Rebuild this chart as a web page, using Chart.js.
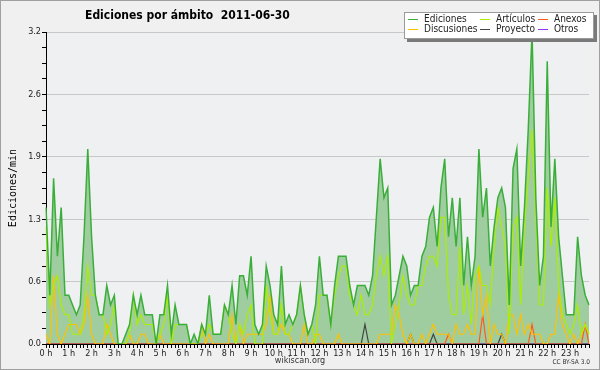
<!DOCTYPE html>
<html><head><meta charset="utf-8">
<script src="https://cdn.jsdelivr.net/npm/chart.js@4.4.1/dist/chart.umd.min.js"></script>
<style>html,body{margin:0;padding:0;background:#f0f0f0;}canvas{display:block;}</style>
</head><body>
<canvas id="c" width="600" height="370"></canvas>
<script>
const titleText = 'Ediciones por ámbito  2011-06-30';
const yTitle = 'Ediciones/min';
const hourLabels = ['0 h','1 h','2 h','3 h','4 h','5 h','6 h','7 h','8 h','9 h','10 h','11 h','12 h','13 h','14 h','15 h','16 h','17 h','18 h','19 h','20 h','21 h','22 h','23 h'];
const yTicks = [0,0.16,0.32,0.48,0.64,0.8,0.96,1.12,1.28,1.44,1.6,1.76,1.92,2.08,2.24,2.4,2.56,2.72,2.88,3.04,3.2];
const yLabels = ['0.0','0.6','1.3','1.9','2.6','3.2'];

const ediciones = [
 1.4,0.5,1.7,0.9,1.4,0.5,0.5,0.4,0.3,0.4,
 1.1,2.0,1.1,0.5,0.3,0.3,0.6,0.4,0.5,0,
 0,0.1,0.2,0.5,0.3,0.5,0.3,0.3,0.3,0,
 0.3,0.3,0.6,0.1,0.4,0.2,0.2,0.2,0,0.1,
 0,0.2,0.1,0.5,0.1,0.1,0.1,0.4,0.3,0.6,
 0.2,0.7,0.7,0.5,0.9,0.2,0.1,0.2,0.8,0.6,
 0.3,0.2,0.8,0.2,0.3,0.2,0.3,0.6,0.3,0.1,
 0.2,0.4,0.9,0.5,0.5,0.2,0.6,0.9,0.9,0.9,
 0.6,0.4,0.6,0.6,0.6,0.5,0.7,1.3,1.9,1.5,
 1.6,0.4,0.5,0.7,0.9,0.8,0.5,0.6,0.6,0.9,
 1.0,1.3,1.4,1.0,1.6,1.9,1.1,1.5,1.0,1.5,
 0.6,1.1,0.6,0.9,2.0,1.3,1.6,0.8,1.2,1.5,
 1.6,1.4,0.4,1.8,2.0,0.8,1.4,2.2,3.2,1.5,
 0.6,0.9,2.9,1.2,1.9,1.1,0.7,0.3,0.3,0.3,
 1.1,0.7,0.5,0.4];
const articulos = [
 1.2,0.4,0.6,0.7,0.4,0.3,0.3,0.1,0.1,0.1,
 0.3,0.8,0.5,0.5,0.3,0.3,0.1,0.2,0.4,0,
 0,0,0.1,0.5,0.2,0.3,0.2,0.2,0.2,0,
 0.1,0.2,0.5,0,0.2,0.2,0.2,0.2,0,0,
 0,0.1,0.1,0.2,0.1,0.1,0.1,0.4,0.3,0.1,
 0,0.2,0.1,0.3,0.4,0,0,0,0.6,0.3,
 0.1,0.1,0.4,0.1,0.1,0.2,0.3,0.6,0.3,0.1,
 0.2,0,0.5,0.5,0.5,0.2,0.5,0.7,0.8,0.8,
 0.5,0.4,0.3,0.5,0.3,0.3,0.4,0.7,0.9,0.7,
 0.9,0,0.2,0.4,0.7,0.5,0.4,0.4,0.6,0.6,
 0.8,0.9,0.9,0.8,1.3,1.3,0.5,0.3,0.3,1.0,
 0.3,0.6,0.2,0.7,0.8,0.6,0.6,0.4,1.0,1.4,
 1.2,1.0,0.1,1.2,1.3,0.4,1.2,1.7,2.2,1.3,
 0.4,0.4,1.6,1.0,1.5,0.6,0.3,0.2,0.1,0.2,
 0.4,0.1,0.2,0.1];
const discusiones = [
 0.1,0,0.7,0.1,0,0.1,0.2,0.2,0.2,0.1,
 0.2,0.5,0.1,0,0,0,0.2,0.1,0,0,
 0,0,0.1,0,0,0.1,0.1,0,0,0,
 0.1,0,0,0,0,0,0,0,0,0,
 0,0.2,0,0.1,0,0,0,0,0,0.3,
 0,0.2,0,0.1,0.1,0.1,0.1,0.1,0.2,0.5,
 0.1,0.1,0.2,0.1,0.1,0,0,0,0.2,0,
 0,0.1,0.1,0,0,0,0,0.1,0,0,
 0,0,0,0,0,0,0,0,0.1,0.1,
 0.1,0.1,0.4,0.3,0.1,0,0.1,0,0,0.1,
 0,0.1,0.2,0.1,0.1,0.1,0.1,0,0.2,0.1,
 0.1,0.2,0.1,0.1,0.8,0.3,0.5,0,0.2,0.1,
 0.1,0,0.3,0.3,0.1,0.3,0.1,0.2,0.1,0.1,
 0.1,0,0,0.1,0.1,0.5,0.2,0.1,0,0.1,
 0,0.1,0.2,0.1];
const proyecto = [
 0,0,0,0,0,0,0,0,0,0, 0,0,0,0,0,0,0,0,0,0,
 0,0,0,0,0,0,0,0,0,0, 0,0,0,0,0,0,0,0,0,0,
 0,0,0,0,0,0,0,0,0,0, 0,0,0,0,0,0,0,0,0,0,
 0,0,0,0,0,0,0,0,0,0, 0,0,0,0,0,0,0,0,0,0,
 0,0,0,0,0.2,0,0,0,0,0,
 0,0,0,0,0,0,0.1,0,0,0,
 0,0,0.1,0,0,0,0,0,0,0,
 0,0,0,0,0,0,0,0,0,0,
 0.1,0,0,0,0,0,0,0,0,0,
 0,0,0,0,0,0,0,0,0,0,
 0,0,0,0];
const anexos = [
 0,0,0,0,0,0,0,0,0,0, 0,0,0,0,0,0,0,0,0,0,
 0,0,0,0,0,0,0,0,0,0, 0,0,0,0,0,0,0,0,0,0,
 0,0,0,0,0,0,0,0,0,0, 0,0,0,0,0,0,0,0,0,0,
 0,0,0,0,0,0,0,0,0,0, 0,0,0,0,0,0,0,0,0,0,
 0,0,0,0,0,0,0,0,0,0,
 0,0,0,0,0,0,0,0,0,0,
 0,0,0,0,0,0,0.1,0,0,0,
 0,0,0,0,0,0.3,0,0,0,0,
 0,0,0,0,0,0,0,0,0.2,0,
 0,0,0,0,0,0,0,0,0,0,
 0,0,0.2,0];
const otros = [
 0,0,0,0,0,0,0,0,0,0, 0,0,0,0,0,0,0,0,0,0,
 0,0,0,0,0,0,0,0,0,0, 0,0,0,0,0,0,0,0,0,0,
 0,0,0,0,0,0,0,0,0,0, 0,0,0,0,0,0,0,0,0,0,
 0,0,0,0,0,0,0,0,0,0, 0,0,0,0,0,0,0,0,0,0,
 0,0,0,0,0,0,0,0,0,0, 0,0,0,0,0,0,0,0,0,0,
 0,0,0,0,0,0,0,0,0,0, 0,0,0,0,0,0,0,0,0,0,
 0,0,0,0,0,0,0,0,0,0, 0,0,0,0,0,0,0,0,0,0,
 0,0,0,0];

// 10-minute time slots
const times = [];
for (let h = 0; h < 24; h++) for (let m = 0; m < 60; m += 10) times.push(h + ':' + String(m).padStart(2, '0'));

const COL = {
  ed: '#3aae3a', edFill: '#a0cda0', art: '#aaee00', dis: '#ffc000',
  anx: '#ff5a1e', pro: '#444444', otr: '#9933ff'
};
const FF = '"DejaVu Sans Condensed", "DejaVu Sans", sans-serif';

const legendItems = [
  {text: 'Ediciones', color: COL.ed, col: 0, row: 0},
  {text: 'Artículos', color: COL.art, col: 1, row: 0},
  {text: 'Anexos', color: COL.anx, col: 2, row: 0},
  {text: 'Discusiones', color: COL.dis, col: 0, row: 1},
  {text: 'Proyecto', color: COL.pro, col: 1, row: 1},
  {text: 'Otros', color: COL.otr, col: 2, row: 1}
];

const decor = {
  id: 'decor',
  beforeDraw(chart) {
    const {ctx, chartArea: a} = chart;
    ctx.save();
    ctx.fillStyle = '#f0f0f0';
    ctx.fillRect(0, 0, chart.width, chart.height);
    ctx.fillStyle = '#eff0f1';
    ctx.fillRect(a.left, a.top, a.right - a.left, a.bottom - a.top);
    ctx.restore();
  },
  afterDraw(chart) {
    const ctx = chart.ctx;
    const a = chart.chartArea;
    ctx.save();
    // title
    ctx.fillStyle = '#000';
    ctx.font = 'bold 12px ' + FF;
    ctx.textAlign = 'left';
    ctx.textBaseline = 'alphabetic';
    ctx.fillText(titleText, 85, 19);
    // y axis title
    ctx.save();
    ctx.translate(13, (a.top + a.bottom) / 2);
    ctx.rotate(-Math.PI / 2);
    ctx.font = '10px "DejaVu Sans Mono", monospace';
    ctx.textAlign = 'center';
    ctx.textBaseline = 'middle';
    ctx.fillText(yTitle, 0, 0);
    ctx.restore();
    // legend box
    const lx = 404, ly = 12, lw = 190, lh = 27;
    ctx.fillStyle = '#7a7a7a';
    ctx.fillRect(lx + 3, ly + 3, lw, lh);
    ctx.fillStyle = '#ffffff';
    ctx.fillRect(lx, ly, lw, lh);
    ctx.strokeStyle = '#9a9a9a';
    ctx.lineWidth = 1;
    ctx.strokeRect(lx + 0.5, ly + 0.5, lw - 1, lh - 1);
    const colX = [408, 480, 538];
    const rowY = [19.5, 29.5];
    ctx.font = '10px ' + FF;
    ctx.textBaseline = 'middle';
    legendItems.forEach(it => {
      const x = colX[it.col], y = rowY[it.row];
      ctx.strokeStyle = it.color;
      ctx.beginPath(); ctx.moveTo(x, y); ctx.lineTo(x + 10, y); ctx.stroke();
      ctx.fillStyle = '#222';
      ctx.fillText(it.text, x + 16, y);
    });
    // footer
    ctx.fillStyle = '#333';
    ctx.font = '9px ' + FF;
    ctx.textAlign = 'center';
    ctx.textBaseline = 'middle';
    ctx.fillText('wikiscan.org', 300, 361);
    ctx.font = '6.5px ' + FF;
    ctx.textAlign = 'right';
    ctx.fillText('CC BY-SA 3.0', 590, 362);
    // outer border
    ctx.strokeStyle = '#a0a0a0';
    ctx.strokeRect(0.5, 0.5, chart.width - 1, chart.height - 1);
    ctx.restore();
  }
};

const line = (label, data, color, width, extra) => Object.assign({
  label, data, borderColor: color, borderWidth: width,
  pointRadius: 0, tension: 0, fill: false
}, extra || {});

new Chart(document.getElementById('c'), {
  type: 'line',
  data: {
    labels: times,
    datasets: [
      line('Ediciones', ediciones, COL.ed, 1.5, {fill: 'origin', backgroundColor: COL.edFill}),
      line('Artículos', articulos, COL.art, 1.2),
      line('Discusiones', discusiones, COL.dis, 1.2),
      line('Anexos', anexos, COL.anx, 1.2),
      line('Proyecto', proyecto, COL.pro, 1.2),
      line('Otros', otros, COL.otr, 1.2)
    ]
  },
  options: {
    responsive: false,
    animation: false,
    devicePixelRatio: 1,
    layout: {padding: {top: 32, right: 11, bottom: 0, left: 0}},
    plugins: {
      legend: {display: false},
      title: {display: false},
      tooltip: {enabled: false},
      filler: {drawTime: 'beforeDatasetsDraw'}
    },
    scales: {
      x: {
        type: 'category',
        z: 1,
        offset: false,
        grid: {display: true, drawOnChartArea: false, drawTicks: true, tickLength: 4, color: '#000', tickColor: '#000'},
        border: {display: true, color: '#000', width: 1},
        ticks: {
          autoSkip: false, maxRotation: 0, minRotation: 0, padding: 0,
          color: '#222', font: {size: 9, family: FF},
          callback: (v, i) => (i % 6 === 0 ? hourLabels[i / 6] : '')
        },
        afterFit: s => { s.height = 26; }
      },
      y: {
        type: 'linear',
        min: 0, max: 3.2,
        afterBuildTicks: s => { s.ticks = yTicks.map(v => ({value: v})); },
        grid: {
          drawTicks: true, tickLength: 4, tickColor: '#000',
          color: ctx => (ctx.index % 4 === 0 ? '#c8c8c8' : 'rgba(0,0,0,0)')
        },
        border: {display: true, color: '#000', width: 1},
        ticks: {
          padding: 1, color: '#222', font: {size: 9, family: FF},
          callback: (v, i) => (i % 4 === 0 ? yLabels[i / 4] : '')
        },
        afterFit: s => { s.width = 46; }
      }
    }
  },
  plugins: [decor]
});
</script>
</body></html>
